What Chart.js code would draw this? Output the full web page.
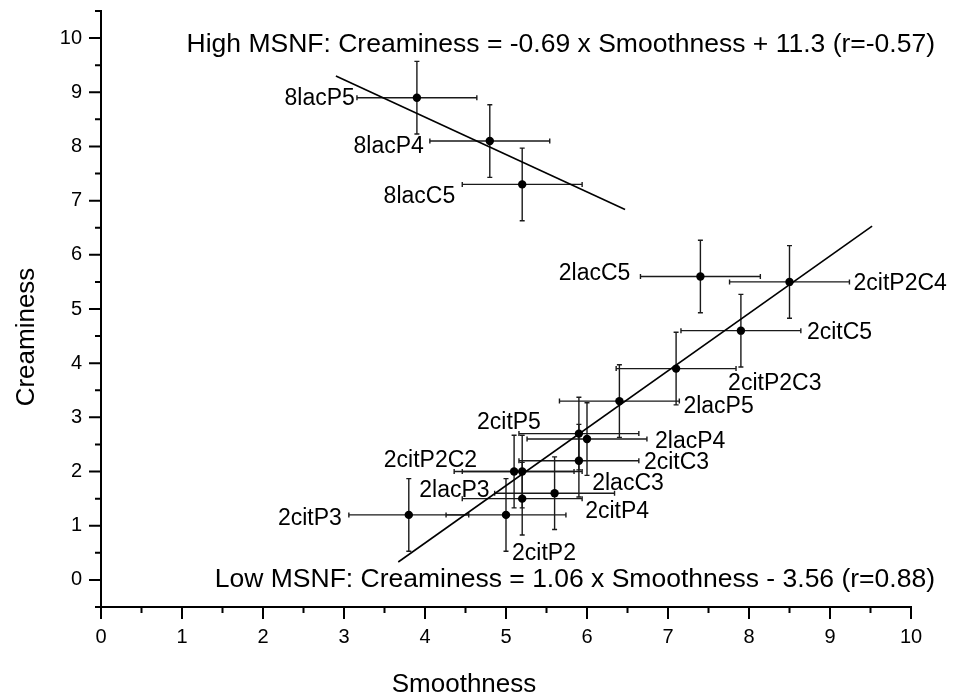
<!DOCTYPE html>
<html><head><meta charset="utf-8">
<script src="https://cdn.jsdelivr.net/npm/chart.js@4.4.0/dist/chart.umd.min.js"></script>
<style>html,body{margin:0;padding:0;background:#fff;} #wrap{width:953px;height:700px;position:relative;}</style>
</head><body><div id="wrap"><canvas id="c" width="953" height="700" style="width:953px;height:700px;"></canvas></div>
<script>
// ---- data ----
const sampleNames   = ['8lacP5','8lacP4','8lacC5','2lacC5','2citP2C4','2citC5','2citP2C3','2lacP5','2citP5','2lacP4','2citC3','2lacC3','2citP4','2lacP3','2citP2C2','2citP3','2citP2'];
const msnfGroup     = ['high','high','high','low','low','low','low','low','low','low','low','low','low','low','low','low','low'];
const smoothness    = [3.9, 4.8, 5.2, 7.4, 8.5, 7.9, 7.1, 6.4, 5.9, 6.0, 5.9, 5.2, 5.2, 5.6, 5.1, 3.8, 5.0];
const creaminess    = [8.9, 8.1, 7.3, 5.6, 5.5, 4.6, 3.9, 3.3, 2.7, 2.6, 2.2, 2.0, 1.5, 1.6, 2.0, 1.2, 1.2];
const smoothnessErr = [0.74,0.74,0.74,0.74,0.74,0.74,0.74,0.74,0.74,0.74,0.74,0.74,0.74,0.74,0.74,0.74,0.74];
const creaminessErr = [0.67,0.67,0.67,0.67,0.67,0.67,0.67,0.67,0.67,0.67,0.67,0.67,0.67,0.67,0.67,0.67,0.67];

// regression fits (from the equations printed on the chart)
const fitNames     = ['High MSNF','Low MSNF'];
const fitSlope     = [-0.69, 1.06];
const fitIntercept = [11.3, -3.56];
const fitXStart    = [2.9, 3.67];
const fitXEnd      = [6.47, 9.52];
const fitTexts     = ['High MSNF: Creaminess = -0.69 x Smoothness + 11.3 (r=-0.57)',
                      'Low MSNF: Creaminess = 1.06 x Smoothness - 3.56 (r=0.88)'];

// tick values / labels
const xTickValues = [0,1,2,3,4,5,6,7,8,9,10];
const xTickLabels = ['0','1','2','3','4','5','6','7','8','9','10'];
const xMinorTicks = [0.5,1.5,2.5,3.5,4.5,5.5,6.5,7.5,8.5,9.5];
const yTickValues = [0,1,2,3,4,5,6,7,8,9,10];
const yTickLabels = ['0','1','2','3','4','5','6','7','8','9','10'];
const yMinorTicks = [-0.5,0.5,1.5,2.5,3.5,4.5,5.5,6.5,7.5,8.5,9.5,10.5];

// ---- label placement (pixels, relative to each point) ----
const labelDx    = [-62,-66,-67,-70,64,66,52,64,-38,68,65,70,63,-65,-37,-67,6];
const labelDy    = [-1,4,10,-5,0,0,13,4,-13,1,0,10,11,-4,-13,2,37];
const labelAlign = ['right','right','right','right','left','left','left','left','right','left','left','left','left','right','right','right','left'];

const FONT = "'Liberation Sans', Arial, sans-serif";
const LABEL_SIZE = 23, NOTE_SIZE = 26.5, TITLE_SIZE = 26;

function pts(group){
  const out=[];
  for(let i=0;i<smoothness.length;i++) if(msnfGroup[i]===group) out.push({x:smoothness[i],y:creaminess[i],i:i});
  return out;
}
function fitLine(k){
  return [{x:fitXStart[k], y:fitSlope[k]*fitXStart[k]+fitIntercept[k]},
          {x:fitXEnd[k],   y:fitSlope[k]*fitXEnd[k]+fitIntercept[k]}];
}

const decorPlugin = {
  id:'decor',
  beforeDatasetsDraw(chart){
    const {ctx, scales:{x,y}} = chart;
    ctx.save();
    ctx.strokeStyle='#1a1a1a'; ctx.lineWidth=1.4;
    const cap=2.5;
    for(let i=0;i<smoothness.length;i++){
      const px=x.getPixelForValue(smoothness[i]), py=y.getPixelForValue(creaminess[i]);
      const x1=x.getPixelForValue(smoothness[i]-smoothnessErr[i]), x2=x.getPixelForValue(smoothness[i]+smoothnessErr[i]);
      const y1=y.getPixelForValue(creaminess[i]-creaminessErr[i]), y2=y.getPixelForValue(creaminess[i]+creaminessErr[i]);
      ctx.beginPath();
      ctx.moveTo(x1,py); ctx.lineTo(x2,py);
      ctx.moveTo(x1,py-cap); ctx.lineTo(x1,py+cap);
      ctx.moveTo(x2,py-cap); ctx.lineTo(x2,py+cap);
      ctx.moveTo(px,y1); ctx.lineTo(px,y2);
      ctx.moveTo(px-cap,y1); ctx.lineTo(px+cap,y1);
      ctx.moveTo(px-cap,y2); ctx.lineTo(px+cap,y2);
      ctx.stroke();
    }
    ctx.restore();
  },
  afterDraw(chart){
    const {ctx, scales:{x,y}} = chart;
    ctx.save();
    // tick marks
    ctx.strokeStyle='#000'; ctx.lineWidth=2;
    const yb = y.getPixelForValue(-0.5), xl = x.getPixelForValue(0);
    ctx.beginPath();
    xTickValues.forEach(v=>{const p=x.getPixelForValue(v); ctx.moveTo(p,yb); ctx.lineTo(p,yb+12);});
    xMinorTicks.forEach(v=>{const p=x.getPixelForValue(v); ctx.moveTo(p,yb); ctx.lineTo(p,yb+6);});
    yTickValues.forEach(v=>{const p=y.getPixelForValue(v); ctx.moveTo(xl,p); ctx.lineTo(xl-12,p);});
    yMinorTicks.forEach(v=>{const p=y.getPixelForValue(v); ctx.moveTo(xl,p); ctx.lineTo(xl-6,p);});
    ctx.stroke();
    // point labels
    ctx.fillStyle='#000';
    ctx.font = LABEL_SIZE+"px "+FONT;
    ctx.textBaseline='alphabetic';
    for(let i=0;i<sampleNames.length;i++){
      const px=x.getPixelForValue(smoothness[i]), py=y.getPixelForValue(creaminess[i]);
      ctx.textAlign=labelAlign[i];
      ctx.fillText(sampleNames[i], px+labelDx[i], py+labelDy[i]+0.358*LABEL_SIZE);
    }
    // fit equations
    ctx.font = NOTE_SIZE+"px "+FONT;
    ctx.textAlign='right';
    ctx.fillText(fitTexts[0], 935, 43+0.358*NOTE_SIZE);
    ctx.fillText(fitTexts[1], 935, 578+0.358*NOTE_SIZE);
    // axis titles
    ctx.font = TITLE_SIZE+"px "+FONT;
    ctx.textAlign='center';
    ctx.fillText('Smoothness', 464, 683+0.358*TITLE_SIZE);
    ctx.translate(25,337); ctx.rotate(-Math.PI/2);
    ctx.fillText('Creaminess', 0, 0.358*TITLE_SIZE);
    ctx.restore();
  }
};

const tickFont = {family:FONT, size:20, lineHeight:1.1};

new Chart(document.getElementById('c'), {
  type:'scatter',
  data:{
    datasets:[
      {label:fitNames[0]+' fit', data:fitLine(0), showLine:true, borderColor:'#000', borderWidth:1.6, pointRadius:0, fill:false},
      {label:fitNames[1]+' fit', data:fitLine(1), showLine:true, borderColor:'#000', borderWidth:1.6, pointRadius:0, fill:false},
      {label:'High MSNF', data:pts('high'), pointRadius:4.2, pointBackgroundColor:'#000', pointBorderWidth:0, showLine:false},
      {label:'Low MSNF',  data:pts('low'),  pointRadius:4.2, pointBackgroundColor:'#000', pointBorderWidth:0, showLine:false}
    ]
  },
  options:{
    responsive:false, maintainAspectRatio:false, animation:false, devicePixelRatio:1,
    layout:{padding:{left:0,right:42,top:11,bottom:0}},
    plugins:{legend:{display:false}, tooltip:{enabled:false}},
    scales:{
      x:{type:'linear', min:0, max:10,
         afterBuildTicks:s=>{s.ticks=xTickValues.map(v=>({value:v}));},
         afterFit:s=>{s.height=93; s.paddingLeft=0; s.paddingRight=0;},
         ticks:{callback:(v,i)=>xTickLabels[i], color:'#000', font:tickFont, padding:19, maxRotation:0, autoSkip:false},
         grid:{display:false, drawTicks:false},
         border:{display:true, color:'#000', width:2}},
      y:{type:'linear', min:-0.5, max:10.5,
         afterBuildTicks:s=>{s.ticks=yTickValues.map(v=>({value:v}));},
         afterFit:s=>{s.width=101; s.paddingTop=0; s.paddingBottom=0;},
         ticks:{callback:(v,i)=>yTickLabels[i], color:'#000', font:tickFont, padding:19, autoSkip:false},
         grid:{display:false, drawTicks:false},
         border:{display:true, color:'#000', width:2}}
    }
  },
  plugins:[decorPlugin]
});
</script></body></html>
